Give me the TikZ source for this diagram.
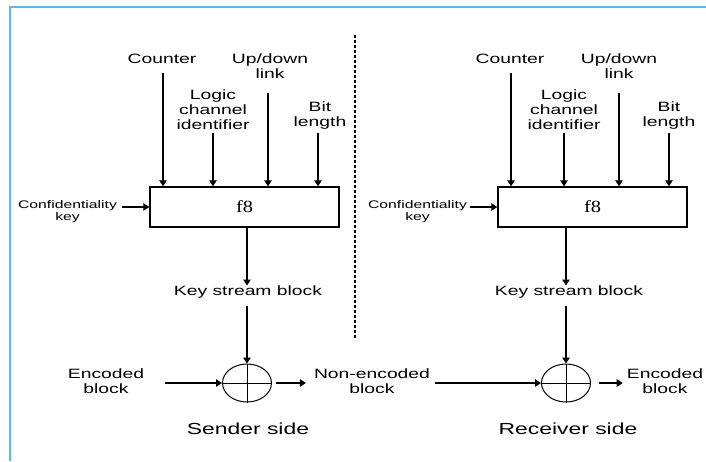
\documentclass[tikz,border=0pt]{standalone}
\usepackage{fontspec}
\setmainfont{Liberation Sans}[FakeStretch=1.43]
\newfontfamily\fserif{Liberation Serif}[FakeStretch=1.2]
\usetikzlibrary{arrows.meta,shapes.geometric}
\definecolor{frameblue}{RGB}{90,185,230}
\begin{document}
\begin{tikzpicture}[x=1pt,y=-1pt,
  lbl/.style={font=\fontsize{13.5}{15}\selectfont, align=center, inner sep=0pt},
  small/.style={font=\fontsize{11}{12}\selectfont, align=center, inner sep=0pt},
  side/.style={font=\fontsize{16}{18}\selectfont, inner sep=0pt},
  fbox/.style={draw, line width=1.4pt, minimum width=189pt, minimum height=40pt, inner sep=0pt, font=\fserif\fontsize{17}{19}\selectfont},
  xorc/.style={draw, ellipse, line width=1pt, minimum width=49pt, minimum height=38pt, inner sep=0pt},
  arr/.style={line width=1.3pt, -{Triangle[length=6pt,width=7.5pt]}},
  divider/.style={line width=1.1pt, dash pattern=on 3pt off 2pt},
]
\useasboundingbox (0,0) rectangle (706,461);
\fill[white] (0,0) rectangle (706,461);
\draw[frameblue, line width=2pt] (10,461) -- (10,7) -- (706,7);

% divider
\coordinate (dtop) at (355,35);
\coordinate (dbot) at (355,340);
\draw[divider] (dtop) -- (dbot);

% ---------- sender side ----------
\node[fbox] (boxL) at (244.5,207) {f8};
\node[lbl] (cntL) at (162,59) {Counter};
\node[lbl] (lciL) at (213,110) {Logic\\channel\\identifier};
\node[lbl] (udlL) at (270,66) {Up/down\\link};
\node[lbl] (bitL) at (320,116) {Bit\\length};
\coordinate (cntLs) at (163,73);
\coordinate (lciLs) at (213,133);
\coordinate (udlLs) at (268,93);
\coordinate (bitLs) at (318,133);
\draw[arr] (cntLs) -- (cntLs |- boxL.north);
\draw[arr] (lciLs) -- (lciLs |- boxL.north);
\draw[arr] (udlLs) -- (udlLs |- boxL.north);
\draw[arr] (bitLs) -- (bitLs |- boxL.north);

\node[small] (ckL) at (67.5,211.5) {Confidentiality\\key};
\coordinate (ckLs) at (122,207);
\draw[arr] (ckLs) -- (boxL.west |- ckLs);

\node[lbl] (ksL) at (248,292) {Key stream block};
\node[xorc] (xorL) at (247,383) {};
\draw[line width=1pt] (xorL.north) -- (xorL.south) (xorL.west) -- (xorL.east);
\draw[arr] (xorL |- boxL.south) -- (xorL |- ksL.north);
\draw[arr, shorten <=8pt] (xorL |- ksL.south) -- (xorL.north);

\node[lbl] (encL) at (106,381) {Encoded\\block};
\node[lbl] (non) at (372,381) {Non-encoded\\block};
\draw[arr, shorten <=21pt] (encL.east |- xorL.west) -- (xorL.west);
\draw[arr, shorten <=4pt, shorten >=8pt] (xorL.east) -- (xorL.east -| non.west);
\node[side] (sndL) at (248,429) {Sender side};

% ---------- receiver side ----------
\node[fbox] (boxR) at (592.5,207) {f8};
\node[lbl] (cntR) at (510,59) {Counter};
\node[lbl] (lciR) at (564,110) {Logic\\channel\\identifier};
\node[lbl] (udlR) at (619,66) {Up/down\\link};
\node[lbl] (bitR) at (669,116) {Bit\\length};
\coordinate (cntRs) at (511,73);
\coordinate (lciRs) at (564,133);
\coordinate (udlRs) at (619,93);
\coordinate (bitRs) at (669,133);
\draw[arr] (cntRs) -- (cntRs |- boxR.north);
\draw[arr] (lciRs) -- (lciRs |- boxR.north);
\draw[arr] (udlRs) -- (udlRs |- boxR.north);
\draw[arr] (bitRs) -- (bitRs |- boxR.north);

\node[small] (ckR) at (417.5,211.5) {Confidentiality\\key};
\coordinate (ckRs) at (470,207);
\draw[arr] (ckRs) -- (boxR.west |- ckRs);

\node[lbl] (ksR) at (569,292) {Key stream block};
\node[xorc] (xorR) at (566,383) {};
\draw[line width=1pt] (xorR.north) -- (xorR.south) (xorR.west) -- (xorR.east);
\draw[arr] (xorR |- boxR.south) -- (xorR |- ksR.north);
\draw[arr, shorten <=8pt] (xorR |- ksR.south) -- (xorR.north);

\node[lbl] (encR) at (665,381) {Encoded\\block};
\draw[arr, shorten <=5pt] (non.east |- xorR.west) -- (xorR.west);
\draw[arr, shorten <=8pt, shorten >=4pt] (xorR.east) -- (xorR.east -| encR.west);
\node[side] (sndR) at (568,429) {Receiver side};
\end{tikzpicture}
\end{document}
